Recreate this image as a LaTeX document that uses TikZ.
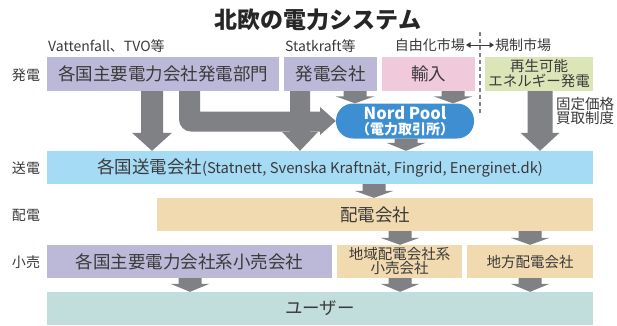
\documentclass[tikz,border=0pt]{standalone}
\usepackage{fontspec}
\setmainfont{Noto Sans CJK JP}
\usetikzlibrary{calc,arrows.meta}
\definecolor{txt}{HTML}{3A3A3A}
\definecolor{cpurple}{HTML}{BCB8D8}
\definecolor{cpink}{HTML}{F0CADB}
\definecolor{cgreen}{HTML}{DCE5B8}
\definecolor{cblue}{HTML}{A6DBF6}
\definecolor{cbeige}{HTML}{F1D9B0}
\definecolor{cteal}{HTML}{C2DEDC}
\definecolor{agray}{HTML}{808184}
\definecolor{nblue}{HTML}{3D8FD1}
\tikzset{
  box/.style={inner sep=0pt, minimum height=33pt, text=txt, align=center,
    font=\fontsize{17.5}{20}\selectfont},
  smallbox/.style={box, font=\fontsize{14.5}{16}\selectfont},
  lbl/.style={inner sep=0pt, text=txt, font=\fontsize{14}{16}\selectfont},
  titlestyle/.style={inner sep=0pt, text=black!85, font=\fontsize{23}{26}\selectfont\bfseries},
  blockarrow/.style={fill=agray},
  divider/.style={agray, line width=1.3pt, dash pattern=on 4pt off 3pt},
  dblarrow/.style={txt, line width=0.9pt, {Triangle[width=5.5pt,length=4.5pt]}-{Triangle[width=5.5pt,length=4.5pt]}, shorten <=1pt, shorten >=1pt},
  nordbox/.style={fill=nblue, rounded corners=17pt, minimum width=138pt, minimum height=35pt, inner sep=0pt, text=white, align=center, font=\fontsize{16.5}{15.5}\selectfont\bfseries}
}
\newcommand\dnarrow[6]{%
  \coordinate (arT) at (#1,0 |- #2.south);
  \coordinate (arB) at (#1,0 |- #3.north);
  \fill[blockarrow] ($(arT)+(-#4,0)$) -- ($(arT)+(#4,0)$) -- ($(arB)+(#4,-#6)$) -- ($(arB)+(#5,-#6)$) -- (arB) -- ($(arB)+(-#5,-#6)$) -- ($(arB)+(-#4,-#6)$) -- cycle;}
\begin{document}
\begin{tikzpicture}[x=1pt,y=-1pt]
\useasboundingbox[fill=white] (0,0) rectangle (617,325);
% title and top labels
\node[titlestyle] (title) at (318,20) {北欧の電力システム};
\node[lbl, anchor=west] (vat) at (48,46) {Vattenfall、TVO等};
\node[lbl, anchor=west] (stat) at (285,46) {Statkraft等};
\node[lbl, anchor=east] (free) at (465,45) {自由化市場};
\node[lbl, anchor=west] (reg) at (495,45) {規制市場};
\draw[dblarrow] (free.east) -- (reg.west);
\coordinate (dtop) at (480,32);
\coordinate (dbot) at (480,113);
\draw[divider] (dtop) -- (dbot);
% side labels
\node[lbl] (lgen) at (26,75) {発電};
\node[lbl] (ltrans) at (26,168) {送電};
\node[lbl] (ldist) at (26,215) {配電};
\node[lbl] (lret) at (26,262) {小売};
% generation row
\node[box, fill=cpurple, minimum width=232pt, minimum height=34pt] (genA) at (163,74) {各国主要電力会社発電部門};
\node[box, fill=cpurple, minimum width=93pt, minimum height=34pt] (genB) at (330.5,74) {発電会社};
\node[box, fill=cpink, minimum width=93pt, minimum height=34pt] (imp) at (428.5,74) {輸入};
\node[smallbox, fill=cgreen, minimum width=108pt, minimum height=34pt] (renew) at (539,74) {再生可能\\[-1pt]エネルギー発電};
% Nord Pool
\node[nordbox] (nord) at (405,121) {Nord Pool\\{\fontsize{14}{14}\selectfont （電力取引所）}};
\node[lbl, align=left, font=\fontsize{14.5}{14}\selectfont] (fit) at (585,111) {固定価格\\買取制度};
% transmission etc.
\node[box, fill=cblue, minimum width=546pt] (trans) at (320,167.5) {各国送電会社{\fontsize{14.8}{18}\selectfont (Statnett, Svenska Kraftnät, Fingrid, Energinet.dk)}};
\node[box, fill=cbeige, minimum width=436pt] (dist) at (375,214.5) {配電会社};
\node[box, fill=cpurple, minimum width=285pt] (retA) at (189.5,261.5) {各国主要電力会社系小売会社};
\node[smallbox, fill=cbeige, minimum width=125pt] (retB) at (399.5,261.5) {地域配電会社系\\[-2pt]小売会社};
\node[smallbox, fill=cbeige, minimum width=126pt] (retC) at (530,261.5) {地方配電会社};
\node[box, fill=cteal, minimum width=546pt, minimum height=33pt] (user) at (320,308.5) {ユーザー};
% big arrows
\dnarrow{152}{genA}{trans}{11}{20}{18}
\dnarrow{300}{genB}{trans}{10}{18}{19}
\dnarrow{540}{renew}{trans}{12.5}{19.5}{18}
\fill[blockarrow] (179,0 |- genA.south) -- (200,0 |- genA.south) -- (200,111.5) -- (320,111.5) -- (320,107) -- (nord.west) -- (320,135) -- (320,131.5) -- (191,131.5) arc[start angle=90,end angle=180,radius=12] -- cycle;
% small arrows
\dnarrow{355}{genB}{nord}{11.5}{19.5}{7}
\dnarrow{453}{imp}{nord}{11.5}{19.5}{7}
\dnarrow{406}{nord}{trans}{11.5}{19.5}{8}
\dnarrow{374}{trans}{dist}{11.5}{19.5}{7}
\dnarrow{400}{dist}{retB}{11.5}{19.5}{7}
\dnarrow{530}{dist}{retC}{11.5}{19.5}{7}
\dnarrow{190}{retA}{user}{11.5}{19.5}{8}
\dnarrow{400}{retB}{user}{11.5}{19.5}{8}
\dnarrow{530}{retC}{user}{11.5}{19.5}{8}
\end{tikzpicture}
\end{document}
